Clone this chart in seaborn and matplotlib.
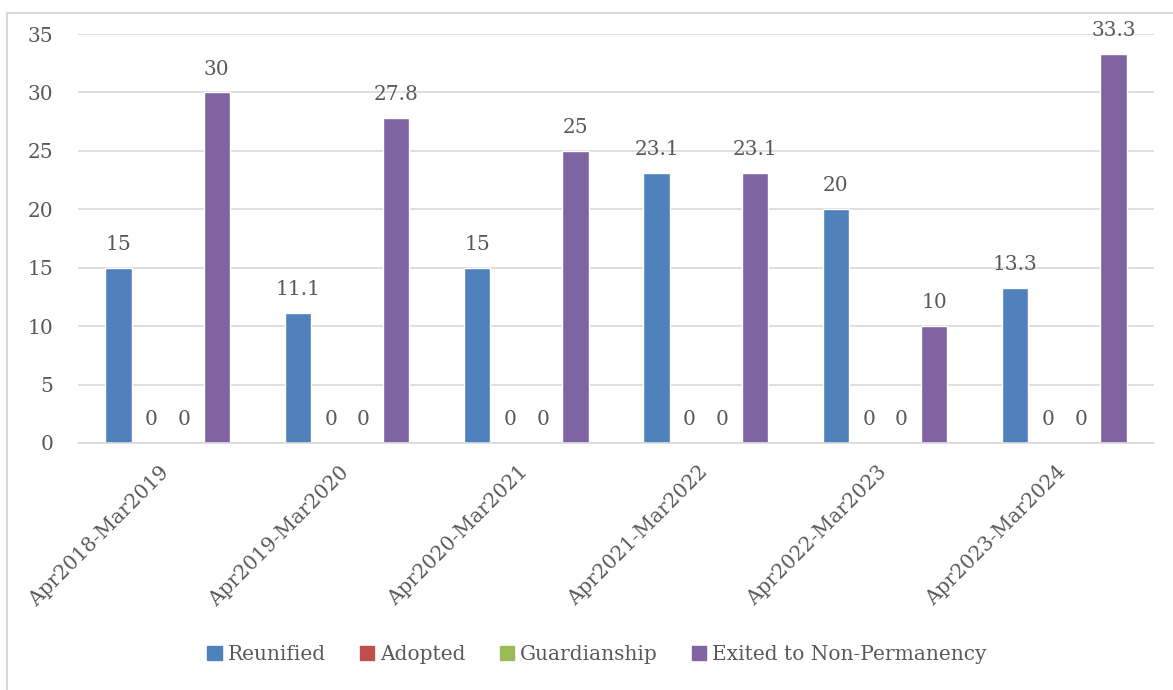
import matplotlib
matplotlib.use("Agg")
import matplotlib.pyplot as plt
import matplotlib.patches as mpatches
import matplotlib.transforms as mtransforms
import seaborn as sns
import pandas as pd

periods = ["Apr2018-Mar2019", "Apr2019-Mar2020", "Apr2020-Mar2021",
           "Apr2021-Mar2022", "Apr2022-Mar2023", "Apr2023-Mar2024"]
reunified = [15, 11.1, 15, 23.1, 20, 13.3]
adopted = [0, 0, 0, 0, 0, 0]
guardianship = [0, 0, 0, 0, 0, 0]
non_permanency = [30, 27.8, 25, 23.1, 10, 33.3]

series_names = ["Reunified", "Adopted", "Guardianship", "Exited to Non-Permanency"]
series_colors = ["#4F81BD", "#C0504D", "#9BBB59", "#8064A2"]

df = pd.DataFrame({
    "period": periods * 4,
    "outcome": sum([[n] * len(periods) for n in series_names], []),
    "value": reunified + adopted + guardianship + non_permanency,
})

sns.set_theme(style="white")
plt.rcParams["font.family"] = ["DejaVu Serif"]
text_color = "#595959"
fs = 14.5

fig = plt.figure(figsize=(11.73, 6.9), dpi=100)
ax = fig.add_axes([0.0665, 0.358, 0.9173, 0.5927])

sns.barplot(data=df, x="period", y="value", hue="outcome",
            hue_order=series_names, palette=series_colors,
            width=0.73, gap=0.2, saturation=1, ax=ax, legend=False)

ax.set_ylim(0, 35)
ax.set_yticks(range(0, 36, 5))
ax.yaxis.grid(True, color="#D9D9D9", linewidth=1.2)
ax.set_axisbelow(True)
for side in ["top", "right", "left"]:
    ax.spines[side].set_visible(False)
ax.spines["bottom"].set_color("#D9D9D9")
ax.spines["bottom"].set_linewidth(1.2)
ax.set_xlabel("")
ax.set_ylabel("")
ax.tick_params(axis="both", length=0, colors=text_color, labelsize=fs)
ax.tick_params(axis="y", pad=18)
ax.set_xticks(range(len(periods)))
ax.set_xticklabels(periods, rotation=45, ha="right", rotation_mode="anchor")
ax.tick_params(axis="x", pad=14)
shift = mtransforms.ScaledTranslation(-8 / 100, 0, fig.dpi_scale_trans)
for lbl in ax.get_xticklabels():
    lbl.set_transform(lbl.get_transform() + shift)

for container in ax.containers:
    labels = [f"{b.get_height():g}" for b in container]
    ax.bar_label(container, labels=labels, padding=10, fontsize=fs, color=text_color)

handles = [mpatches.Patch(color=c, label=n) for n, c in zip(series_names, series_colors)]
leg = fig.legend(handles=handles, loc="center", bbox_to_anchor=(0.509, 0.051), ncol=4,
                 frameon=False, fontsize=fs, handlelength=0.7, handleheight=0.7,
                 handletextpad=0.3, columnspacing=1.7)
for t in leg.get_texts():
    t.set_color(text_color)

# chart area border
border = mpatches.Rectangle((7 / 1173, -0.1), 1.2, 1 - 13 / 690 + 0.1,
                            transform=fig.transFigure, fill=False,
                            edgecolor="#D9D9D9", linewidth=1.5)
fig.patches.append(border)

fig.savefig("out.png", dpi=100)
